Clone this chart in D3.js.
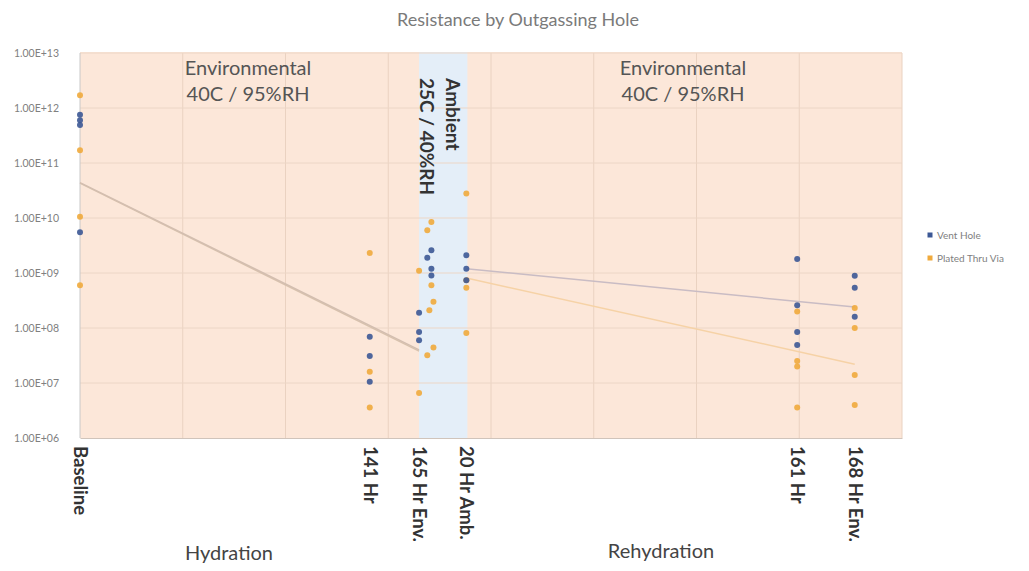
<!DOCTYPE html>
<html lang="en">
<head>
<meta charset="UTF-8">
<title>Resistance by Outgassing Hole</title>
<script src="https://d3js.org/d3.v7.min.js"></script>
<style>
    body { margin: 0; background: #fff; }
    text { font-family: Lato, "Open Sans", sans-serif; }
    .title { font-size: 18px; fill: #7a7a7a; text-anchor: middle; }
    .ytick text { font-size: 10.5px; fill: #808080; }
    .xtick text { font-size: 18.5px; font-weight: bold; fill: #333; }
    .note { font-size: 20px; fill: #555; text-anchor: middle; }
    .amb { font-size: 19px; font-weight: bold; fill: #333; }
    .phase { font-size: 20px; fill: #444; text-anchor: middle; }
    .legend { font-size: 10px; fill: #808080; }
</style>
</head>
<body>
<div id="chart"></div>
<script>
    // x positions are hours on a continuous axis, labels are custom
    const xCategories = ["Baseline", "141 Hr", "165 Hr Env.", "20 Hr Amb.", "161 Hr", "168 Hr Env."];
    const xHours = [0, 141, 165, 188, 349, 377];
    const yTicks = [1e6, 1e7, 1e8, 1e9, 1e10, 1e11, 1e12, 1e13];

    // [hours, resistance]
    const ventHole = [
        [0, 7.5e11], [0, 6e11], [0, 4.9e11], [0, 5.5e9],
        [141, 6.9e7], [141, 3.1e7], [141, 1.05e7],
        [165, 1.9e8], [165, 8.5e7], [165, 6e7],
        [171, 2.6e9], [169, 1.9e9], [171, 1.2e9], [171, 9e8],
        [188, 2.1e9], [188, 1.2e9], [188, 7.4e8],
        [349, 1.8e9], [349, 2.6e8], [349, 8.5e7], [349, 4.9e7],
        [377, 8.9e8], [377, 5.4e8], [377, 1.6e8]
    ];
    const platedVia = [
        [0, 1.7e12], [0, 1.7e11], [0, 1.05e10], [0, 6e8],
        [141, 2.3e9], [141, 1.6e7], [141, 3.6e6],
        [165, 1.1e9], [165, 6.6e6],
        [171, 8.5e9], [169, 6e9], [171, 6e8], [172, 3e8], [170, 2.1e8], [172, 4.4e7], [169, 3.2e7],
        [188, 2.8e10], [188, 7.4e8], [188, 5.4e8], [188, 8.1e7],
        [349, 2e8], [349, 2.5e7], [349, 2e7], [349, 3.6e6],
        [377, 2.3e8], [377, 1e8], [377, 1.4e7], [377, 4e6]
    ];

    // trend segments (hydration, rehydration)
    const ventTrend = [[[0, 4.4e10], [165, 4e7]], [[188, 1.2e9], [377, 2.4e8]]];
    const platedTrend = [[[0, 4.3e10], [165, 3.8e7]], [[188, 8.1e8], [377, 2.2e7]]];

    const ambientBand = [165, 188.5];

    const width = 1029, height = 571;
    const margin = { top: 53, right: 127, bottom: 133, left: 80 };

    const svg = d3.select("#chart").append("svg")
        .attr("width", width)
        .attr("height", height);

    const x = d3.scaleLinear().domain([0, 400]).range([margin.left, width - margin.right]);
    const y = d3.scaleLog().domain([1e6, 1e13]).range([height - margin.bottom, margin.top]);

    // plot background
    svg.append("rect")
        .attr("x", x(0)).attr("y", y(1e13) - 1)
        .attr("width", x(400) - x(0)).attr("height", y(1e6) - y(1e13) + 1)
        .attr("fill", "#fce7d9");

    svg.append("rect")
        .attr("x", x(ambientBand[0])).attr("y", y(1e13) - 1)
        .attr("width", x(ambientBand[1]) - x(ambientBand[0]))
        .attr("height", y(1e6) - y(1e13) + 1)
        .attr("fill", "#e4eef8");

    // gridlines
    svg.append("g").selectAll("line")
        .data(d3.range(50, 401, 50))
        .join("line")
        .attr("x1", d => x(d)).attr("x2", d => x(d))
        .attr("y1", y(1e13)).attr("y2", y(1e6))
        .attr("stroke", "#ead2c1").attr("stroke-width", 1);

    svg.append("g").selectAll("line")
        .data(yTicks.slice(1))
        .join("line")
        .attr("x1", x(0)).attr("x2", x(400))
        .attr("y1", d => y(d)).attr("y2", d => y(d))
        .attr("stroke", "#ecd6c6").attr("stroke-width", 1);

    // axes
    const yAxis = svg.append("g")
        .attr("class", "ytick")
        .attr("transform", "translate(" + (x(0) - 18) + ",0)")
        .call(d3.axisLeft(y).tickValues(yTicks).tickSize(0)
            .tickFormat(d => "1.00E+" + String(Math.round(Math.log10(d))).padStart(2, "0")));
    yAxis.select(".domain").remove();

    svg.append("line")
        .attr("x1", x(0)).attr("x2", x(0))
        .attr("y1", y(1e13)).attr("y2", y(1e6))
        .attr("stroke", "#c8c8c8");

    const xAxis = svg.append("g")
        .attr("class", "xtick")
        .attr("transform", "translate(0," + y(1e6) + ")")
        .call(d3.axisBottom(x).tickValues(xHours).tickSize(0)
            .tickFormat((d, i) => xCategories[i]));
    xAxis.select(".domain").attr("stroke", "#d0c4bb");
    xAxis.selectAll("text")
        .attr("transform", "rotate(90)")
        .attr("x", 8).attr("y", 0).attr("dy", "0.35em")
        .style("text-anchor", "start");

    // trend lines
    const line = d3.line().x(d => x(d[0])).y(d => y(d[1]));
    svg.append("g").selectAll("path")
        .data(platedTrend)
        .join("path")
        .attr("d", line)
        .attr("fill", "none")
        .attr("stroke", (d, i) => i === 0 ? "#d8c2ad" : "#f6d2a6")
        .attr("stroke-width", 1.5);
    svg.append("g").selectAll("path")
        .data(ventTrend)
        .join("path")
        .attr("d", line)
        .attr("fill", "none")
        .attr("stroke", (d, i) => i === 0 ? "#d3beb0" : "#c9bcc4")
        .attr("stroke-width", 1.5);

    // points
    svg.append("g").selectAll("circle")
        .data(platedVia)
        .join("circle")
        .attr("cx", d => x(d[0])).attr("cy", d => y(d[1]))
        .attr("r", 3)
        .attr("fill", "#f0aa3c")
        .attr("fill-opacity", 0.9);
    svg.append("g").selectAll("circle")
        .data(ventHole)
        .join("circle")
        .attr("cx", d => x(d[0])).attr("cy", d => y(d[1]))
        .attr("r", 3)
        .attr("fill", "#3c5895")
        .attr("fill-opacity", 0.9);

    // condition notes
    [[248, "Environmental"], [683, "Environmental"]].forEach(n => {
        svg.append("text").attr("class", "note").attr("x", n[0]).attr("y", 75).text(n[1]);
        svg.append("text").attr("class", "note").attr("x", n[0]).attr("y", 101).text("40C / 95%RH");
    });

    svg.append("text").attr("class", "amb")
        .attr("transform", "translate(446,78) rotate(90)")
        .text("Ambient");
    svg.append("text").attr("class", "amb")
        .attr("transform", "translate(420,78) rotate(90)")
        .text("25C / 40%RH");

    svg.append("text").attr("class", "phase").attr("x", 229).attr("y", 560).text("Hydration");
    svg.append("text").attr("class", "phase").attr("x", 661).attr("y", 558).text("Rehydration");

    svg.append("text").attr("class", "title").attr("x", 518).attr("y", 26)
        .text("Resistance by Outgassing Hole");

    // legend
    const legendItems = [["Vent Hole", "#3c5895"], ["Plated Thru Via", "#f0aa3c"]];
    const lg = svg.append("g").attr("transform", "translate(930,235)");
    legendItems.forEach((d, i) => {
        lg.append("rect").attr("x", -2.5).attr("y", i * 23 - 2.5)
            .attr("width", 5).attr("height", 5).attr("fill", d[1]);
        lg.append("text").attr("class", "legend")
            .attr("x", 7).attr("y", i * 23).attr("dy", "0.35em").text(d[0]);
    });
</script>
</body>
</html>
